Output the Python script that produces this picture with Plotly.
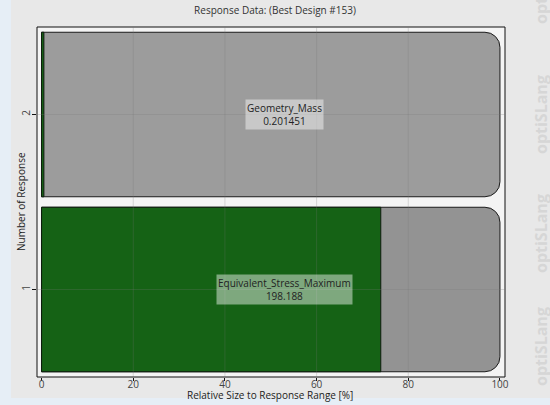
import plotly.graph_objects as go

# Response data for the best design
response_numbers = [1, 2]
response_names = ["Equivalent_Stress_Maximum", "Geometry_Mass"]
response_values = ["198.188", "0.201451"]
relative_size = [74.0, 0.5]          # % of response range
full_range = [100, 100]
x_ticks = [0, 20, 40, 60, 80, 100]

FONT = "Open Sans"
W, H = 550, 405
L, R, T, B = 37, 45, 27, 28
pw, ph = W - L - R, H - T - B


def px_to_paper_x(px):
    return (px - L) / pw


def px_to_paper_y(py):
    return (H - B - py) / ph


fig = go.Figure()

# full response range (background bars)
fig.add_trace(go.Bar(
    y=response_numbers, x=full_range, orientation="h", width=0.94,
    marker=dict(color=["#939393", "#9c9c9c"], line=dict(color="#1a1a1a", width=1)),
    hoverinfo="skip", showlegend=False,
))
# actual relative size of each response
fig.add_trace(go.Bar(
    y=response_numbers, x=relative_size, orientation="h", width=0.94,
    marker=dict(color="#156215", line=dict(color="#0d1a0d", width=1)),
    hoverinfo="skip", showlegend=False,
))

# value labels
for n, name, val in zip(response_numbers, response_names, response_values):
    fig.add_annotation(
        x=53, y=n, xref="x", yref="y", text=f"{name}<br>{val}", showarrow=False,
        font=dict(family=FONT, size=10, color="#222222"),
        bgcolor="rgba(255,255,255,0.45)", borderpad=1,
    )

# grid drawn over the bars
for t in x_ticks[1:-1]:
    fig.add_vline(x=t, line=dict(color="rgba(120,120,120,0.25)", width=1), layer="above")
for n in response_numbers:
    fig.add_hline(y=n, line=dict(color="rgba(120,120,120,0.25)", width=1), layer="above")

# page background and plot frame
fig.add_shape(type="rect", xref="paper", yref="paper",
              x0=px_to_paper_x(11), x1=px_to_paper_x(W + 5),
              y0=px_to_paper_y(398), y1=px_to_paper_y(-5),
              fillcolor="#e8e8e8", line_width=0, layer="below")
fig.add_shape(type="rect", xref="paper", yref="paper", x0=0, x1=1, y0=0, y1=1,
              fillcolor="#f4f4f4", line=dict(color="#111111", width=1), layer="below")

# axis titles
fig.add_annotation(
    x=px_to_paper_x(270), y=px_to_paper_y(395), xref="paper", yref="paper",
    text="Relative Size to Response Range [%]", showarrow=False,
    font=dict(family=FONT, size=10, color="#222222"), yanchor="middle",
)
fig.add_annotation(
    x=px_to_paper_x(21), y=0.5, xref="paper", yref="paper",
    text="Number of Response", textangle=-90, showarrow=False,
    font=dict(family=FONT, size=10, color="#222222"), xanchor="center",
)

# watermark
for cy in [-15, 115, 234, 347]:
    fig.add_annotation(
        x=px_to_paper_x(541), y=px_to_paper_y(cy), xref="paper", yref="paper",
        xanchor="center", yanchor="middle",
        text="<b>optiSLang</b>", textangle=-90, showarrow=False,
        font=dict(family=FONT, size=16, color="#d6d6d6"),
    )

fig.update_layout(
    width=W, height=H,
    margin=dict(l=L, r=R, t=T, b=B, autoexpand=False),
    paper_bgcolor="#e6eef6", plot_bgcolor="rgba(0,0,0,0)",
    barmode="overlay", barcornerradius=15,
    font=dict(family=FONT, size=10, color="#333333"),
    title=dict(text="Response Data: (Best Design #153)", x=0.5, xanchor="center",
               y=1 - 10 / H, yanchor="middle", font=dict(family=FONT, size=10, color="#333333")),
    xaxis=dict(range=[-1, 101.1], tickvals=x_ticks, ticks="outside", ticklen=3,
               tickcolor="#111111", showgrid=False, zeroline=False, showline=False,
               ticklabelstandoff=-5, tickfont=dict(size=10, color="#444444")),
    yaxis=dict(range=[0.5, 2.5], tickvals=response_numbers, ticks="outside", ticklen=4,
               tickcolor="#111111", tickangle=-90, showgrid=False, zeroline=False,
               showline=False, ticklabelstandoff=-2, tickfont=dict(size=10, color="#444444")),
)

fig.write_html("out.html")
